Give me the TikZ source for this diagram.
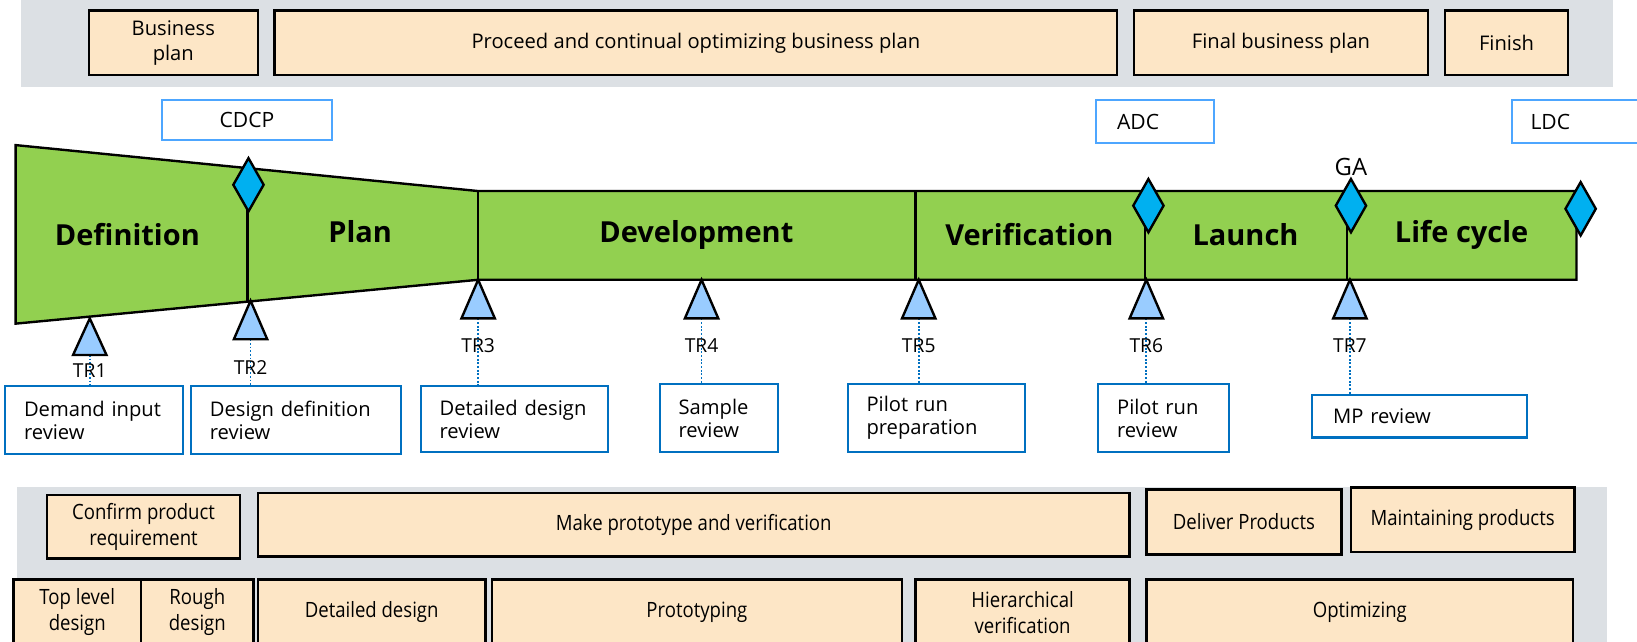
\documentclass[tikz,border=0pt]{standalone}
\usepackage{fontspec}
\setmainfont{Open Sans}
\newfontfamily\narrowsans[FakeStretch=0.88]{Open Sans}
\usetikzlibrary{shapes.geometric}
\definecolor{phasegreen}{HTML}{92D050}
\definecolor{planbeige}{HTML}{FDE6C6}
\definecolor{bandgray}{HTML}{DCE0E4}
\definecolor{gemblue}{HTML}{00B0F0}
\definecolor{triblue}{HTML}{99CCFF}
\definecolor{revblue}{HTML}{0070C0}
\definecolor{gateblue}{HTML}{4DA6FF}
\tikzset{
  planbox/.style={draw=black, line width=1.3pt, fill=planbeige, align=center, inner sep=0pt, font=\fontsize{11}{13.5}\selectfont},
  workbox/.style={planbox, font=\narrowsans\fontsize{11.5}{14}\selectfont},
  gatebox/.style={draw=gateblue, line width=0.9pt, fill=white, inner sep=0pt, font=\fontsize{11.5}{14}\selectfont},
  revbox/.style={draw=revblue, line width=1.2pt, fill=white, align=left, inner xsep=0.36cm, inner ysep=0pt, font=\fontsize{11}{12.5}\selectfont},
  phase/.style={font=\bfseries\fontsize{15.8}{18}\selectfont},
  gem/.style={diamond, draw=black, line width=1.3pt, fill=gemblue, inner sep=0pt, minimum width=0.6cm, minimum height=1.04cm},
  trlabel/.style={font=\fontsize{10.5}{12}\selectfont, inner sep=1pt},
  trlink/.style={draw=revblue, densely dotted, line width=1pt}
}
\begin{document}
\begin{tikzpicture}[x=0.02cm,y=-0.02cm]
\useasboundingbox (0,0) rectangle (1568,614);
\clip (0,0) rectangle (1568,614);
% business plan band
\fill[bandgray] (20,-5) rectangle (1545,83);
\node[planbox, minimum width=3.24cm, minimum height=1.24cm] (bplan) at (166,41) {Business\\plan};
\node[planbox, minimum width=16.14cm, minimum height=1.24cm] (optplan) at (666.5,41) {Proceed and continual optimizing business plan};
\node[planbox, minimum width=5.64cm, minimum height=1.24cm] (finalplan) at (1227,41) {Final business plan};
\node[planbox, minimum width=2.36cm, minimum height=1.24cm] (finish) at (1443,41) {Finish};
% decision checkpoints
\node[gatebox, minimum width=3.26cm, minimum height=0.76cm] (cdcp) at (236.5,115) {CDCP};
\node[gatebox, inner xsep=0.4cm, text width=1.46cm, minimum height=0.82cm] (adc) at (1106.5,116.5) {ADC};
\node[gatebox, inner xsep=0.36cm, text width=1.82cm, minimum height=0.82cm] (ldc) at (1511.5,116.5) {LDC};
% phases
\draw[line width=1.3pt, fill=phasegreen] (15,139) -- (458,183) -- (1510,183) -- (1510,268) -- (458,268) -- (15,310) -- cycle;
\draw[line width=1.3pt] (237,161) -- (237,289);
\foreach \x in {458,877,1097,1290}
  \draw[line width=1.3pt] (\x,183) -- (\x,268);
\node[phase] (definition) at (122,225) {Definition};
\node[phase] (plan) at (345,222) {Plan};
\node[phase] (development) at (667,225) {Development};
\node[phase] (verification) at (986,225) {Verification};
\node[phase] (launch) at (1193,225) {Launch};
\node[phase] (lifecycle) at (1400,225) {Life cycle};
\node[gem] (cdcpgem) at (238,177) {};
\node[gem] (adcgem) at (1100,197) {};
\node[gem] (gagem) at (1294,197) {};
\node[gem] (ldcgem) at (1514,200) {};
\node[font=\fontsize{13}{15}\selectfont] (ga) at (1294,160) {GA};
% technical reviews
\node[revbox, text width=2.68cm, minimum height=1.3cm] (r1) at (90,402.5) {Demand input\\review};
\node[revbox, text width=3.3cm, minimum height=1.3cm] (r2) at (283.5,402.5) {Design definition\\review};
\node[revbox, text width=2.86cm, minimum height=1.26cm] (r3) at (492.5,401.5) {Detailed design\\review};
\node[revbox, text width=1.54cm, minimum height=1.3cm] (r4) at (688.5,400.5) {Sample\\review};
\node[revbox, text width=2.68cm, minimum height=1.3cm] (r5) at (897,400.5) {Pilot run\\preparation};
\node[revbox, text width=1.78cm, minimum height=1.3cm] (r6) at (1114.5,400.5) {Pilot run\\review};
\node[revbox, inner xsep=0.4cm, text width=3.32cm, minimum height=0.82cm] (r7) at (1360,398.5) {MP review};
\foreach \x/\ytop/\ybase/\ylab/\rev [count=\i] in {86/305/340/355/r1, 240/288/325/352/r2, 458/268/305/331/r3, 672/268/305/331/r4, 880/268/305/331/r5, 1098/268/305/331/r6, 1293/268/305/331/r7}{
  \coordinate (tr\i) at (\x,\ybase);
  \draw[trlink] (tr\i) -- (tr\i |- \rev.north);
  \draw[line width=1.3pt, fill=triblue] (\x,\ytop) -- (\x+16,\ybase) -- (\x-16,\ybase) -- cycle;
  \node[trlabel] (trl\i) at (\x,\ylab) {TR\i};
}
% product work band
\fill[bandgray] (16,466) rectangle (1539,620);
\node[workbox, minimum width=3.7cm, minimum height=1.22cm] (confirm) at (137.5,504.5) {Confirm product\\requirement};
\node[workbox, minimum width=16.7cm, minimum height=1.22cm] (prototype) at (664.5,502.5) {Make prototype and verification};
\node[workbox, minimum width=3.74cm, minimum height=1.24cm] (deliver) at (1191.5,500) {Deliver Products};
\node[workbox, minimum width=4.28cm, minimum height=1.24cm] (maintain) at (1401,498) {Maintaining products};
\node[workbox, minimum width=2.44cm, minimum height=1.26cm] (toplevel) at (74,586.5) {Top level\\design};
\node[workbox, minimum width=2.16cm, minimum height=1.26cm] (rough) at (189,586.5) {Rough\\design};
\node[workbox, minimum width=4.36cm, minimum height=1.26cm] (detailed) at (356,586.5) {Detailed design};
\node[workbox, minimum width=7.86cm, minimum height=1.26cm] (prototyping) at (667.5,586.5) {Prototyping};
\node[workbox, minimum width=4.1cm, minimum height=1.26cm] (hierarchical) at (979.5,586.5) {Hierarchical\\verification};
\node[workbox, minimum width=8.18cm, minimum height=1.26cm] (optimizing) at (1302.5,586.5) {Optimizing};
\end{tikzpicture}
\end{document}
